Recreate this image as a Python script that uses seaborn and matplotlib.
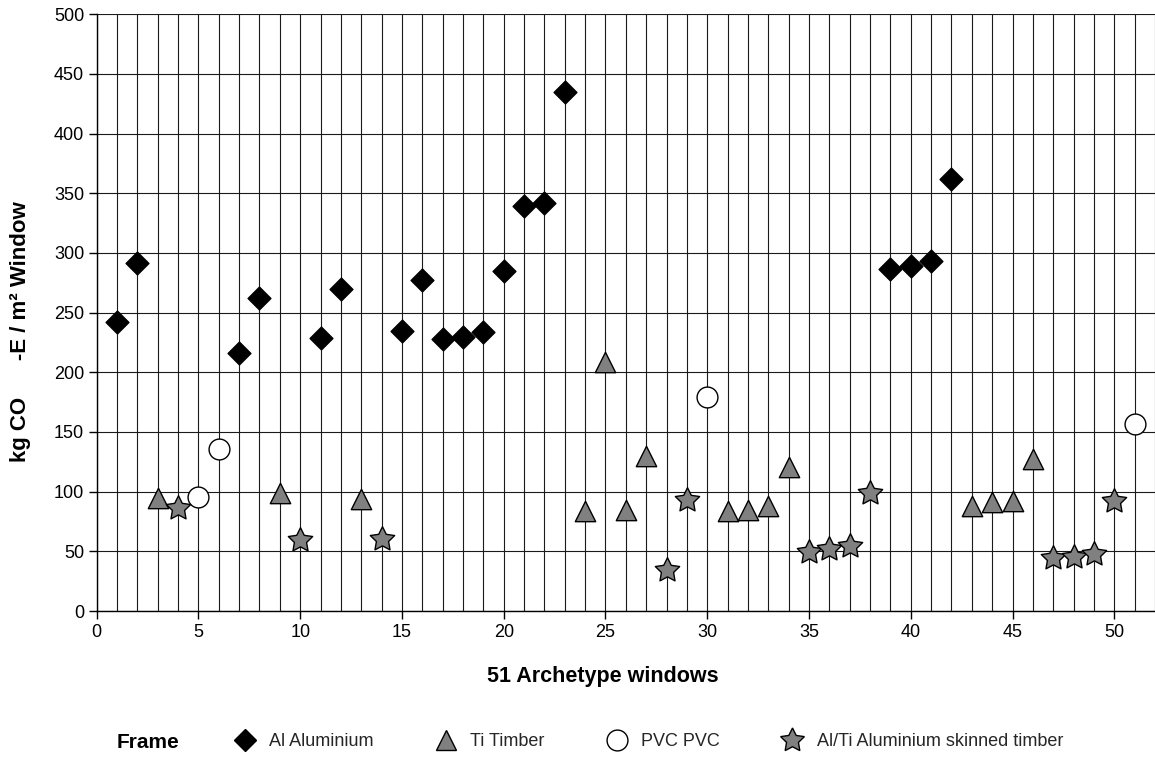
import matplotlib
matplotlib.use("Agg")
import matplotlib.pyplot as plt
import seaborn as sns
import pandas as pd
from matplotlib.ticker import MultipleLocator
from matplotlib.lines import Line2D

# ---- data ----
windows = list(range(1, 52))
frames = ["Al", "Al", "Ti", "Al/Ti", "PVC", "PVC", "Al", "Al", "Ti", "Al/Ti",
          "Al", "Al", "Ti", "Al/Ti", "Al", "Al", "Al", "Al", "Al", "Al",
          "Al", "Al", "Al", "Ti", "Ti", "Ti", "Ti", "Al/Ti", "Al/Ti", "PVC",
          "Ti", "Ti", "Ti", "Ti", "Al/Ti", "Al/Ti", "Al/Ti", "Al/Ti", "Al", "Al",
          "Al", "Al", "Ti", "Ti", "Ti", "Ti", "Al/Ti", "Al/Ti", "Al/Ti", "Al/Ti",
          "PVC"]
values = [242.5, 292, 94.5, 86, 95.5, 135.5, 216.5, 262, 98.5, 59.5,
          229, 270, 94, 60.5, 234.5, 277, 228, 230, 234, 285,
          339, 341.5, 434.5, 84, 208.5, 85, 130, 34.5, 93, 179.5,
          84, 85, 88, 120.5, 49.5, 52, 54.5, 99, 286.5, 289,
          293.5, 362, 88, 91, 92.5, 127.5, 44, 45, 47.5, 92.5,
          156.5]
frame_order = ["Al", "Ti", "PVC", "Al/Ti"]
frame_labels = ["Al Aluminium", "Ti Timber", "PVC PVC", "Al/Ti Aluminium skinned timber"]

df = pd.DataFrame({"window": windows, "frame": frames, "value": values})

styles = {
    "Al":    dict(marker="D", s=135, color="black", ms=11.5),
    "Ti":    dict(marker="^", s=215, color="#808080", ms=14.5),
    "PVC":   dict(marker="o", s=225, color="white", ms=15),
    "Al/Ti": dict(marker=(5, 1, 0), s=340, color="#808080", ms=18),
}

sns.set_theme(style="white")
plt.rcParams["font.family"] = ["Liberation Sans", "DejaVu Sans"]

fig = plt.figure(figsize=(11.55, 7.65), dpi=100)
ax = fig.add_axes([0.0837, 0.2013, 0.9163, 0.7800])

for f in frame_order:
    st = styles[f]
    sub = df[df["frame"] == f]
    sns.scatterplot(data=sub, x="window", y="value", ax=ax, marker=st["marker"],
                    s=st["s"], color=st["color"], edgecolor="black",
                    linewidth=1.0, legend=False, zorder=3)

ax.set_xlim(0, 52)
ax.set_ylim(0, 500)
ax.xaxis.set_minor_locator(MultipleLocator(1))
ax.yaxis.set_major_locator(MultipleLocator(50))
ax.set_xticks(list(range(0, 51, 5)))
ax.set_axisbelow(True)
ax.grid(axis="x", which="both", color="#1a1a1a", linewidth=0.8)
ax.grid(axis="y", which="major", color="#1a1a1a", linewidth=0.8)
ax.tick_params(which="minor", length=0)
ax.tick_params(which="major", direction="out", length=6, width=1, color="black",
               labelsize=13, labelcolor="black", pad=3)
ax.tick_params(axis="x", bottom=True)
ax.tick_params(axis="y", left=True)
for side in ["top", "right"]:
    ax.spines[side].set_visible(False)
for side in ["left", "bottom"]:
    ax.spines[side].set_color("black")
    ax.spines[side].set_linewidth(1.0)

ax.set_xlabel("51 Archetype windows", fontsize=15.5, fontweight="bold", color="black")
ax.xaxis.set_label_coords((603 - 96.7) / 1058.3, -0.093)
ax.set_ylabel("kg CO      -E / m² Window", fontsize=16, fontweight="bold", color="black")
ax.yaxis.set_label_coords((31 - 96.7) / 1058.3, (611 - 332) / 596.7)

handles = []
for f, lab in zip(frame_order, frame_labels):
    st = styles[f]
    handles.append(Line2D([], [], linestyle="none", marker=st["marker"],
                          markersize=st["ms"], markerfacecolor=st["color"],
                          markeredgecolor="black", markeredgewidth=1.0, label=lab))

fig.text(117 / 1155, 1 - 743 / 765, "Frame", fontsize=15, fontweight="bold",
         ha="left", va="center", color="black")
fig.legend(handles=handles, loc="center left", bbox_to_anchor=(234 / 1155, 1 - 742 / 765),
           ncol=4, frameon=False, fontsize=13, handlelength=1.2, handletextpad=0.75,
           columnspacing=3.4, borderaxespad=0, borderpad=0)

fig.savefig("out.png", dpi=100)
